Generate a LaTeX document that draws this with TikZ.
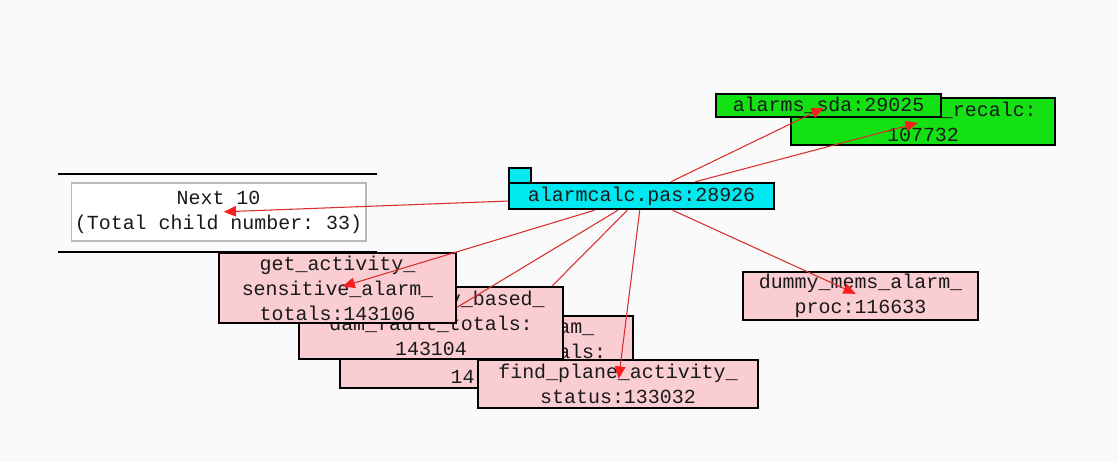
\documentclass[tikz,border=0pt]{standalone}
\usepackage{fontspec}
\setmonofont{Liberation Mono}
\usetikzlibrary{arrows.meta}

\definecolor{bgc}{RGB}{250,250,250}
\definecolor{pinkfill}{RGB}{250,205,210}
\definecolor{greenfill}{RGB}{20,225,20}
\definecolor{cyanfill}{RGB}{0,232,240}
\definecolor{edgered}{RGB}{215,45,45}
\definecolor{tipred}{RGB}{250,30,30}
\definecolor{framegrey}{RGB}{185,185,185}
\definecolor{ink}{RGB}{25,25,25}

\tikzset{
  lbl/.style={font=\ttfamily\fontsize{11.35}{14.2}\selectfont, align=center,
              inner sep=0pt, text=ink, rectangle},
  box/.style={lbl, draw=black, line width=0.8pt},
  pinkbox/.style={box, fill=pinkfill},
  greenbox/.style={box, fill=greenfill},
  callarrow/.style={draw=edgered, line width=0.6pt,
              -{Triangle[length=7pt,width=6pt,color=tipred]}, shorten >=3pt},
  bar/.style={line width=1.7pt, draw=black},
}

\begin{document}
\begin{tikzpicture}[x=0.02cm,y=-0.02cm]
\fill[bgc] (0,0) rectangle (1118,462);
\useasboundingbox (0,0) rectangle (1118,462);

% central file node with its tab
\node[lbl, draw=black, fill=cyanfill, line width=1.4pt,
      minimum width=5.3cm, minimum height=0.52cm] (main) at (641.5,196) {alarmcalc.pas:28926};
\node[draw=black, fill=cyanfill, line width=1.2pt, inner sep=0pt,
      minimum width=0.44cm, minimum height=0.30cm] (tab) at (520,175.5) {};

% "next" pager between two bars
\draw[bar] (58,174) -- (377,174);
\draw[bar] (58,252) -- (377,252);
\node[lbl, draw=framegrey, fill=white, line width=0.6pt,
      minimum width=5.9cm, minimum height=1.16cm] (next) at (218.5,212)
      {Next 10\\(Total child number: 33)};
\draw[callarrow] (main) -- (next.center);

% green callees
\node[greenbox, minimum width=5.28cm, minimum height=0.94cm] (recalc) at (923,121.5)
      {\phantom{00000000000}\_recalc:\\107732};
\draw[callarrow] (main) -- (recalc.center);
\node[greenbox, minimum width=4.5cm, minimum height=0.46cm] (sda) at (828.5,105.5)
      {alarms\_sda:29025};
\draw[callarrow] (main) -- (sda.center);

% pink callees
\node[pinkbox, minimum width=4.7cm, minimum height=0.96cm] (dummy) at (860.5,296)
      {dummy\_mems\_alarm\_\\proc:116633};
\draw[callarrow] (main) -- (dummy.center);

\node[pinkbox, minimum width=5.86cm, minimum height=1.44cm] (damb) at (486.5,352)
      {\phantom{000000000000000}am\_\\\phantom{0000000000000000}als:\\14\phantom{0000}};
\draw[callarrow] (main) -- (damb.center);

\node[pinkbox, minimum width=5.6cm, minimum height=0.96cm] (plane) at (618,384)
      {find\_plane\_activity\_\\status:133032};
\draw[callarrow] (main) -- (plane.center);

\node[pinkbox, minimum width=5.28cm, minimum height=1.44cm] (dama) at (431,323)
      {\phantom{00000000000}y\_based\_\\dam\_fault\_totals:\\143104};
\draw[callarrow] (main) -- (dama.center);

\node[pinkbox, minimum width=4.74cm, minimum height=1.4cm] (sens) at (337.5,288)
      {get\_activity\_\\sensitive\_alarm\_\\totals:143106};
\draw[callarrow] (main) -- (sens.center);
\end{tikzpicture}
\end{document}
